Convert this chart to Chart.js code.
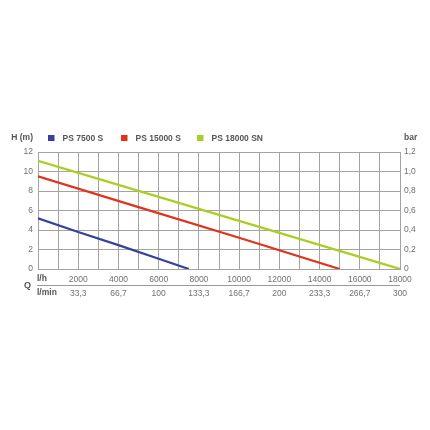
<!DOCTYPE html>
<html>
<head>
<meta charset="utf-8">
<script src="https://cdn.jsdelivr.net/npm/chart.js@4"></script>
<style>
  html, body { margin: 0; padding: 0; background: #fff; }
  #wrap { width: 430px; height: 430px; }
</style>
</head>
<body>
<div id="wrap"><canvas id="pumpChart" width="430" height="430"></canvas></div>
<script>
// pump curves (flow in l/h, head in m)
const seriesNames = ['PS 7500 S', 'PS 15000 S', 'PS 18000 SN']
const seriesColors = ['#3b3f9c', '#e2321c', '#a8cf22']

const ps7500Flow = [0, 2000, 4000, 6000, 7500]
const ps7500Head = [5.2, 3.8, 2.45, 1.05, 0]

const ps15000Flow = [0, 5000, 10000, 15000]
const ps15000Head = [9.5, 6.35, 3.2, 0]

const ps18000Flow = [0, 6000, 12000, 18000]
const ps18000Head = [11.1, 7.4, 3.7, 0]

// bottom axis labels
const flowLh = [2000, 4000, 6000, 8000, 10000, 12000, 14000, 16000, 18000]
const flowLmin = ['33,3', '66,7', '100', '133,3', '166,7', '200', '233,3', '266,7', '300']

const gridColor = '#a3a3a3'
const tickColor = '#707070'
const labelColor = '#555'
const fontFamily = '"Liberation Sans", Arial, sans-serif'

function toPoints(xs, ys) {
    return xs.map((x, i) => ({x: x, y: ys[i]}))
}

const flows = [ps7500Flow, ps15000Flow, ps18000Flow]
const heads = [ps7500Head, ps15000Head, ps18000Head]

const chartData = {
    datasets: seriesNames.map((name, i) => ({
        label: name,
        data: toPoints(flows[i], heads[i]),
        borderColor: seriesColors[i],
        backgroundColor: seriesColors[i],
        borderWidth: 2.2,
        pointRadius: 0,
        tension: 0,
        yAxisID: 'y',
    })),
}

// extra texts: unit labels, legend, Q row
const extrasPlugin = {
    id: 'extras',
    afterDraw(chart) {
        const ctx = chart.ctx
        const area = chart.chartArea
        ctx.save()
        ctx.font = 'bold 8.5px ' + fontFamily
        ctx.fillStyle = labelColor
        ctx.textBaseline = 'middle'

        // H (m) and bar
        ctx.textAlign = 'right'
        ctx.fillText('H (m)', area.left - 5, 138)
        ctx.textAlign = 'left'
        ctx.fillText('bar', area.right + 4, 138)

        // legend
        const legendX = [48, 121, 197]
        chart.data.datasets.forEach((ds, i) => {
            ctx.fillStyle = ds.borderColor
            ctx.fillRect(legendX[i], 135, 6.5, 6)
            ctx.fillStyle = labelColor
            ctx.fillText(ds.label, legendX[i] + 14.5, 138.5)
        })

        // l/h, Q, l/min
        ctx.fillText('l/h', area.left - 1, 279)
        ctx.fillText('l/min', area.left - 1, 293)
        ctx.font = 'bold 9px ' + fontFamily
        ctx.fillText('Q', 24, 286)

        ctx.strokeStyle = '#9a9a9a'
        ctx.lineWidth = 1
        ctx.beginPath()
        ctx.moveTo(area.left - 1, 285.5)
        ctx.lineTo(area.right, 285.5)
        ctx.stroke()
        ctx.restore()
    }
}

const chartOptions = {
    responsive: false,
    animation: false,
    layout: {
        padding: {top: 152, left: 0, right: 0, bottom: 131},
    },
    scales: {
        x: {
            type: 'linear',
            min: 0,
            max: 18000,
            grid: {color: gridColor, drawTicks: false},
            border: {color: gridColor},
            afterFit: (scale) => { scale.height = 30 },
            ticks: {
                stepSize: 1000,
                autoSkip: false,
                maxRotation: 0,
                padding: 4,
                color: tickColor,
                font: {family: fontFamily, size: 8.5, lineHeight: '14px'},
                callback: (value) => {
                    const i = flowLh.indexOf(value)
                    return i < 0 ? '' : [String(value), flowLmin[i]]
                },
            },
        },
        y: {
            position: 'left',
            min: 0,
            max: 12,
            grid: {color: gridColor, drawTicks: false},
            border: {color: gridColor},
            afterFit: (scale) => { scale.width = 38 },
            ticks: {
                stepSize: 2,
                padding: 5,
                color: tickColor,
                font: {family: fontFamily, size: 8.5},
            },
        },
        y2: {
            position: 'right',
            min: 0,
            max: 1.2,
            grid: {display: false, drawTicks: false},
            border: {color: gridColor},
            afterFit: (scale) => { scale.width = 30 },
            ticks: {
                stepSize: 0.2,
                padding: 4,
                color: tickColor,
                font: {family: fontFamily, size: 8.5},
                callback: (value) => value === 0 ? '0' : value.toFixed(1).replace('.', ','),
            },
        },
    },
    plugins: {
        legend: {display: false},
        tooltip: {enabled: false},
    },
}

const chart = new Chart(document.getElementById('pumpChart'), {
    type: 'line',
    data: chartData,
    options: chartOptions,
    plugins: [extrasPlugin],
})
</script>
</body>
</html>
